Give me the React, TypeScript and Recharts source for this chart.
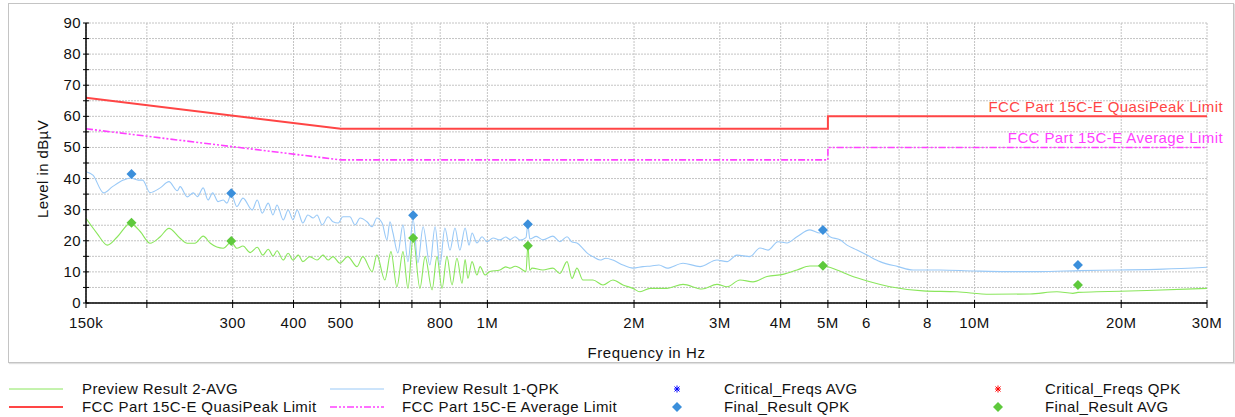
import React from "react";
import {
  ComposedChart,
  Line,
  Scatter,
  XAxis,
  YAxis,
  CartesianGrid,
  LabelList,
} from "recharts";

// frequency in kHz, level in dBµV
const qpkPreview: [number, number][] = [
  [150, 42.2], [155, 41.1], [163, 35.4], [170, 37.4], [179, 39.5], [185, 40.2], [192, 39.5],
  [196, 39.5], [203, 35.5], [213, 37], [222, 39], [231, 36.1], [234, 37.4], [242, 34.1],
  [249, 35.4], [254, 34.2], [261, 37], [267, 33.1], [273, 35.4], [280, 32.6], [287, 33.1],
  [292, 32.1], [298, 35], [306, 31], [315, 33.7], [329, 29.9], [337, 33.1], [345, 28.9],
  [355, 32.1], [363, 28.3], [370, 31.5], [381, 26.7], [390, 29.9], [399, 26.7], [407, 29.9],
  [418, 25.7], [428, 28.3], [439, 27.3], [447, 28.3], [458, 25.1], [471, 27.7], [482, 26.1],
  [494, 25.7], [505, 27.7], [522, 27.7], [535, 25.1], [548, 27.3], [566, 26.1], [580, 24.5],
  [593, 27.3], [608, 25.7], [622, 20.3], [631, 26.1], [640, 22.5], [655, 16.1], [671, 25.1],
  [687, 13.3], [704, 27], [720, 12.9], [738, 24.5], [762, 12.2], [781, 24.5], [799, 12.2],
  [818, 24.1], [838, 17], [858, 24.1], [878, 17], [900, 24.1], [917, 18.6], [930, 22.5],
  [952, 19.3], [975, 21.3], [998, 19.7], [1027, 20.9], [1061, 20.3], [1090, 21.2], [1113, 20.4],
  [1140, 21.3], [1167, 20.2], [1200, 21], [1211, 25.3], [1222, 20.6], [1260, 21.4], [1300, 20.3],
  [1363, 21.5], [1409, 19.7], [1457, 21.3], [1492, 19.6], [1527, 19.3], [1571, 17.5], [1601, 16.1],
  [1647, 14.9], [1703, 13.8], [1750, 14.4], [1810, 13.8], [1898, 12.2], [1990, 11.2], [2086, 11.7],
  [2170, 11.9], [2250, 12.2], [2337, 11.2], [2521, 12.8], [2732, 11.7], [2960, 13.8], [3104, 13.3],
  [3254, 15.4], [3459, 14.9], [3627, 17.7], [3767, 17], [3949, 19.7], [4120, 19.3], [4320, 21.3],
  [4593, 23.5], [4815, 22.5], [4884, 23.3], [5048, 21.3], [5293, 20.3], [5472, 18.6], [5736, 17],
  [6014, 15.4], [6396, 13.3], [6963, 11.7], [7476, 10.6], [8492, 10.6], [9927, 10.3],
  [11658, 10.1], [13557, 10.1], [16456, 10.4], [19882, 10.6], [24360, 10.9], [30000, 11.5],
];

const avgPreview: [number, number][] = [
  [150, 27.2], [158, 22.4], [166, 18.6], [174, 21.3], [185, 25.6], [194, 22.9], [203, 19.2],
  [213, 21.3], [222, 24], [234, 20.8], [242, 19.2], [251, 19.2], [261, 21.5], [270, 19.2],
  [287, 17.6], [298, 19.6], [306, 17.6], [315, 18.3], [326, 16.2], [337, 17.9], [346, 15.4],
  [355, 17.3], [363, 15.1], [370, 16.8], [381, 13.8], [390, 16], [399, 13.8], [409, 15.4],
  [418, 13.3], [432, 14.9], [447, 13.8], [460, 15.4], [471, 13.8], [482, 14.9], [498, 12.8],
  [517, 14.9], [540, 11.7], [555, 14.9], [580, 10.1], [593, 15.4], [616, 7.4], [634, 16.5],
  [652, 5.2], [671, 16.5], [687, 4.7], [704, 21], [727, 4.7], [745, 14.9], [770, 4.2],
  [788, 14.9], [807, 4.7], [826, 14.9], [846, 5.8], [866, 14.4], [887, 6.3], [900, 14],
  [912, 7.9], [930, 13.3], [952, 9], [966, 11.7], [989, 9], [1012, 10.1], [1061, 10.6],
  [1090, 11.6], [1113, 11.2], [1140, 11.8], [1167, 11.2], [1200, 10.1], [1211, 18.4],
  [1222, 10.5], [1235, 11.2], [1300, 10.6], [1363, 11.2], [1409, 9.5], [1457, 13.3], [1492, 7.9],
  [1527, 11.2], [1571, 7.4], [1647, 7.4], [1727, 5.8], [1810, 7.4], [1898, 5.8], [1990, 4.7],
  [2057, 3.6], [2157, 4.7], [2337, 4.7], [2521, 6], [2757, 4.5], [2960, 6], [3104, 5.2],
  [3300, 7.4], [3509, 6.8], [3749, 8.5], [4043, 9.2], [4320, 10.6], [4593, 11.9], [4884, 11.9],
  [5219, 10.6], [5523, 9], [6100, 6.8], [6705, 5.2], [7838, 3.9], [9204, 3.6], [10758, 2.8],
  [12994, 2.9], [14763, 3.6], [15921, 3.1], [16302, 3.4], [17835, 3.6], [22590, 4], [30000, 4.7],
];

const qpLimit: [number, number][] = [[150, 66], [500, 56], [5000, 56], [5000, 60], [30000, 60]];
const avLimit: [number, number][] = [[150, 56], [500, 46], [5000, 46], [5000, 50], [30000, 50]];

const finalFreqs = [186, 298, 704, 1211, 4884, 16302];
const finalQpk = [41.5, 35.3, 28.2, 25.3, 23.5, 12.2];
const finalAvg = [25.8, 19.9, 20.9, 18.4, 12.0, 5.8];

const xTicks = [150, 200, 300, 400, 500, 600, 700, 800, 1000, 2000, 3000, 4000, 5000, 6000, 7000, 8000, 10000, 20000, 30000];
const xTickLabels = ["150k", "", "300", "400", "500", "", "", "800", "1M", "2M", "3M", "4M", "5M", "6", "", "8", "10M", "20M", "30M"];
const yTicks = [0, 5, 10, 15, 20, 25, 30, 35, 40, 45, 50, 55, 60, 65, 70, 75, 80, 85, 90];

const W = 1235;
const H = 417;
const PLOT_L = 86;
const PLOT_R = 1207;
const PLOT_T = 23;
const PLOT_B = 303;
const AXIS_W = 40;
const AXIS_H = 40;
const FONT = "'Liberation Sans', Arial, sans-serif";

const toPts = (arr: [number, number][]) => arr.map(([f, y]) => ({ f, y }));
const markerPts = (vals: number[]) => finalFreqs.map((f, i) => ({ f, y: vals[i] }));

const XTick = (props: any) => {
  const { x, y, index } = props;
  return (
    <g>
      <line x1={x} x2={x} y1={y - 3} y2={y + 5} stroke="#000" />
      <text x={x} y={y + 25} textAnchor="middle" fontSize={15} fill="#111" fontFamily={FONT} letterSpacing={0.4}>
        {xTickLabels[index]}
      </text>
    </g>
  );
};

const YTick = (props: any) => {
  const { x, y, payload } = props;
  const v = payload.value;
  return (
    <g>
      <line x1={x - 3} x2={x + 3} y1={y} y2={y} stroke="#000" />
      {v % 10 === 0 && (
        <text x={x - 5} y={y + 5} textAnchor="end" fontSize={15} fill="#111" fontFamily={FONT} letterSpacing={0.4}>
          {v}
        </text>
      )}
    </g>
  );
};

const diamond = (color: string, r: number) => (props: any) => {
  const { cx, cy } = props;
  return (
    <polygon
      points={`${cx},${cy - r} ${cx + r},${cy} ${cx},${cy + r} ${cx - r},${cy}`}
      fill={color}
    />
  );
};

const limitLabel = (text: string, color: string, last: number) => (props: any) => {
  const { x, y, index } = props;
  if (index !== last) return null;
  return (
    <text x={x + 16} y={y - 4} textAnchor="end" fontSize={15} fill={color} fontFamily={FONT} letterSpacing={0.4}>
      {text}
    </text>
  );
};

const Asterisk = ({ x, y, color }: { x: number; y: number; color: string }) => (
  <g stroke={color} strokeWidth={1}>
    <line x1={x - 3} x2={x + 3} y1={y} y2={y} />
    <line x1={x} x2={x} y1={y - 3.5} y2={y + 3.5} />
    <line x1={x - 2.5} x2={x + 2.5} y1={y - 2.5} y2={y + 2.5} />
    <line x1={x - 2.5} x2={x + 2.5} y1={y + 2.5} y2={y - 2.5} />
  </g>
);

const LegendText = ({ x, y, children }: { x: number; y: number; children: string }) => (
  <text x={x} y={y + 5} fontSize={15} fill="#111" fontFamily={FONT} letterSpacing={0.4}>
    {children}
  </text>
);

export default function App() {
  const row1 = 389;
  const row2 = 407;
  return (
    <div
      style={{
        position: "fixed",
        left: 0,
        top: 0,
        width: W,
        height: H,
        overflow: "hidden",
        background: "#fff",
      }}
    >
      <div
        style={{
          position: "absolute",
          left: 8,
          top: 3,
          width: 1224,
          height: 358,
          border: "1px solid #c4c4c4",
          boxShadow: "1px 1px 1px #e0e0e0",
        }}
      />
      <div style={{ position: "absolute", left: 0, top: 0 }}>
        <ComposedChart
          width={W}
          height={H}
          margin={{ top: PLOT_T, right: W - PLOT_R, bottom: H - PLOT_B - AXIS_H, left: PLOT_L - AXIS_W }}
        >
          <CartesianGrid stroke="#c4c4c4" strokeDasharray="2 1" />
          <XAxis
            dataKey="f"
            type="number"
            scale="log"
            domain={[150, 30000]}
            ticks={xTicks}
            interval={0}
            allowDataOverflow
            height={AXIS_H}
            tickSize={0}
            tickMargin={0}
            tickLine={false}
            tick={<XTick />}
            axisLine={{ stroke: "#000", strokeWidth: 1.5 }}
          />
          <YAxis
            type="number"
            domain={[0, 90]}
            ticks={yTicks}
            interval={0}
            width={AXIS_W}
            tickSize={0}
            tickMargin={0}
            tickLine={false}
            tick={<YTick />}
            axisLine={{ stroke: "#000", strokeWidth: 1.5 }}
          />
          <Line
            data={toPts(avgPreview)}
            dataKey="y"
            type="monotone"
            stroke="#8ae65c"
            strokeWidth={1.1}
            dot={false}
            activeDot={false}
            isAnimationActive={false}
          />
          <Line
            data={toPts(qpkPreview)}
            dataKey="y"
            type="monotone"
            stroke="#99c9f7"
            strokeWidth={1.1}
            dot={false}
            activeDot={false}
            isAnimationActive={false}
          />
          <Line
            data={toPts(qpLimit)}
            dataKey="y"
            type="linear"
            stroke="#ff4545"
            strokeWidth={2}
            dot={false}
            activeDot={false}
            isAnimationActive={false}
          >
            <LabelList
              dataKey="y"
              content={limitLabel("FCC Part 15C-E QuasiPeak Limit", "#ff4545", qpLimit.length - 1)}
            />
          </Line>
          <Line
            data={toPts(avLimit)}
            dataKey="y"
            type="linear"
            stroke="#ff40ff"
            strokeWidth={1.6}
            strokeDasharray="7 2 2 2 2 2"
            dot={false}
            activeDot={false}
            isAnimationActive={false}
          >
            <LabelList
              dataKey="y"
              content={limitLabel("FCC Part 15C-E Average Limit", "#ff40ff", avLimit.length - 1)}
            />
          </Line>
          <Scatter data={markerPts(finalQpk)} dataKey="y" shape={diamond("#3b8fdb", 5)} isAnimationActive={false} />
          <Scatter data={markerPts(finalAvg)} dataKey="y" shape={diamond("#5ec93c", 5)} isAnimationActive={false} />
        </ComposedChart>
      </div>
      <svg width={W} height={H} style={{ position: "absolute", left: 0, top: 0, pointerEvents: "none" }}>
        <text
          x={42}
          y={(PLOT_T + PLOT_B) / 2 + 6}
          transform={`rotate(-90, 42, ${(PLOT_T + PLOT_B) / 2 + 6})`}
          textAnchor="middle"
          dominantBaseline="central"
          fontSize={15}
          fill="#111"
          fontFamily={FONT}
          letterSpacing={0.4}
        >
          Level in dBµV
        </text>
        <text
          x={(PLOT_L + PLOT_R) / 2}
          y={358}
          textAnchor="middle"
          fontSize={15}
          fill="#111"
          fontFamily={FONT}
          letterSpacing={0.6}
        >
          Frequency in Hz
        </text>

        <line x1={9} x2={63} y1={row1} y2={row1} stroke="#8ae65c" strokeWidth={1} />
        <LegendText x={82} y={row1}>Preview Result 2-AVG</LegendText>
        <line x1={9} x2={63} y1={row2} y2={row2} stroke="#ff4545" strokeWidth={2} />
        <LegendText x={82} y={row2}>FCC Part 15C-E QuasiPeak Limit</LegendText>

        <line x1={330} x2={384} y1={row1} y2={row1} stroke="#99c9f7" strokeWidth={1} />
        <LegendText x={402} y={row1}>Preview Result 1-QPK</LegendText>
        <line x1={330} x2={384} y1={row2} y2={row2} stroke="#ff40ff" strokeWidth={1.6} strokeDasharray="7 2 2 2 2 2" />
        <LegendText x={402} y={row2}>FCC Part 15C-E Average Limit</LegendText>

        <Asterisk x={677} y={row1} color="#0000ff" />
        <LegendText x={724} y={row1}>Critical_Freqs AVG</LegendText>
        {diamond("#3b8fdb", 5)({ cx: 677, cy: row2 })}
        <LegendText x={724} y={row2}>Final_Result QPK</LegendText>

        <Asterisk x={998} y={row1} color="#ff0000" />
        <LegendText x={1045} y={row1}>Critical_Freqs QPK</LegendText>
        {diamond("#5ec93c", 5)({ cx: 998, cy: row2 })}
        <LegendText x={1045} y={row2}>Final_Result AVG</LegendText>
      </svg>
    </div>
  );
}
